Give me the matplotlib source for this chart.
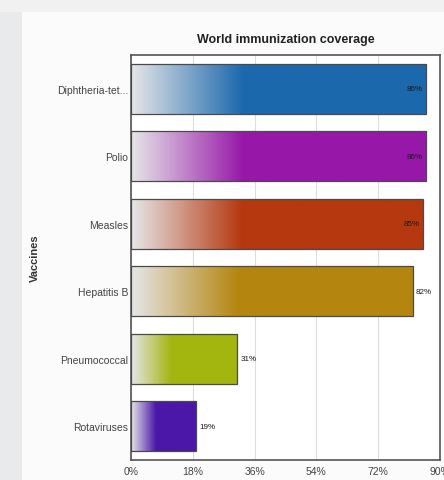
"""World immunization coverage — horizontal bars with left-to-right fade."""
import numpy as np
import matplotlib
matplotlib.use("Agg")
import matplotlib.pyplot as plt
from matplotlib.colors import LinearSegmentedColormap
from matplotlib.patches import Rectangle

plt.rcParams["font.family"] = ["Liberation Sans", "DejaVu Sans"]

vaccines = ["Diphtheria-tet...", "Polio", "Measles", "Hepatitis B", "Pneumococcal", "Rotaviruses"]
coverage = [86, 86, 85, 82, 31, 19]
colors = ["#1b68ad", "#9718a8", "#b5380f", "#b5860f", "#a3b50f", "#4b17a8"]
xticks = [0, 18, 36, 54, 72, 90]
xtick_labels = ["0%", "18%", "36%", "54%", "72%", "90%"]

W, H = 444, 481
fig = plt.figure(figsize=(W / 100, H / 100), dpi=100)
fig.patch.set_facecolor("#e9eaec")

# white card behind the chart
fig.patches.append(Rectangle((22 / W, 0), 1 - 22 / W, 1 - 13 / H, transform=fig.transFigure,
                             facecolor="#fbfbfb", edgecolor="none", zorder=-10))
fig.patches.append(Rectangle((0, 1 - 13 / H), 1, 13 / H, transform=fig.transFigure,
                             facecolor="#f1f1f2", edgecolor="none", zorder=-10))

ax = fig.add_axes([131 / W, 1 - 461 / H, (440 - 131) / W, (461 - 56) / H])
ax.set_facecolor("white")

bar_h = 0.74
for i, (v, c) in enumerate(zip(coverage, colors)):
    cmap = LinearSegmentedColormap.from_list("g%d" % i, ["#e6e6e8", c])
    ramp = np.clip(np.linspace(0, 1, 256) / 0.38, 0, 1)[None, :]
    y0, y1 = i - bar_h / 2, i + bar_h / 2
    im = ax.imshow(ramp, cmap=cmap, vmin=0, vmax=1, aspect="auto",
                   extent=(0, v, y1, y0), interpolation="bilinear", zorder=2)
    rect = Rectangle((0, y0), v, bar_h, facecolor="none", edgecolor="#4a4a4a", lw=0.9, zorder=3)
    ax.add_patch(rect)
    im.set_clip_path(rect)
    if v >= 84:
        ax.text(v - 1, i, f"{v}%", ha="right", va="center", fontsize=5.8, color="#1a1a1a", zorder=4)
    else:
        ax.text(v + 1, i, f"{v}%", ha="left", va="center", fontsize=5.8, color="#1a1a1a", zorder=4)

ax.set_xlim(0, 90)
ax.set_ylim(len(vaccines) - 0.5, -0.5)
ax.set_xticks(xticks)
ax.set_xticklabels(xtick_labels)
ax.set_yticks(range(len(vaccines)))
ax.set_yticklabels(vaccines)
ax.tick_params(axis="both", length=0, labelsize=7.5, colors="#444444")
ax.tick_params(axis="x", pad=4)
ax.tick_params(axis="y", pad=2)
ax.grid(axis="x", color="#dddddd", lw=0.8, zorder=1)
ax.set_axisbelow(True)
for s in ax.spines.values():
    s.set_color("#555555")
    s.set_linewidth(1.2)

ax.set_title("World immunization coverage", fontsize=9, fontweight="bold", color="#222222", pad=9)
ax.set_ylabel("Vaccines", fontsize=8, fontweight="bold", color="#333333", labelpad=12)

fig.savefig("out.png", dpi=100, facecolor=fig.get_facecolor())
